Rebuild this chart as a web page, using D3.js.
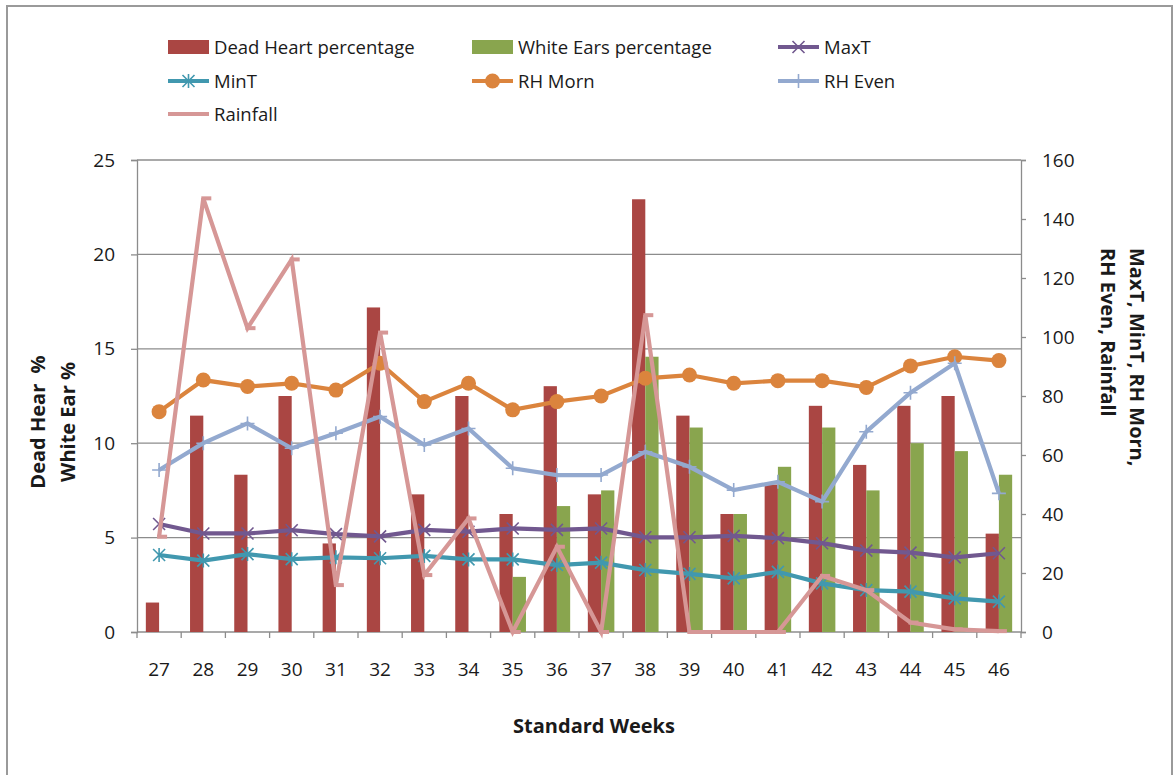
<!DOCTYPE html>
<html>
<head>
<meta charset="utf-8">
<script src="https://cdn.jsdelivr.net/npm/d3@7"></script>
<style>
  html, body { margin: 0; padding: 0; background: #fff; }
  svg { display: block; font-family: "Open Sans", "Noto Sans", sans-serif; }
  text { white-space: pre; }
</style>
</head>
<body>
<svg id="chart" width="1175" height="775"></svg>
<script>
// Standard weeks on the category axis
const weeks = ["27","28","29","30","31","32","33","34","35","36","37","38","39","40","41","42","43","44","45","46"];

// Pest incidence (left axis, %)
const deadHeart = [1.56, 11.46, 8.33, 12.5, 4.69, 17.19, 7.29, 12.5, 6.25, 13.02, 7.29, 22.92, 11.46, 6.25, 7.81, 11.98, 8.85, 11.98, 12.5, 5.21];
const whiteEars = [0, 0, 0, 0, 0, 0, 0, 0, 2.92, 6.67, 7.5, 14.58, 10.83, 6.25, 8.75, 10.83, 7.5, 10.0, 9.58, 8.33];

// Weather parameters (right axis)
const maxT     = [36.6, 33.4, 33.4, 34.5, 33.2, 32.4, 34.6, 34.0, 35.1, 34.6, 35.1, 32.1, 32.1, 32.6, 31.8, 30.1, 27.6, 26.9, 25.3, 26.7];
const minT     = [26.1, 24.2, 26.4, 24.7, 25.3, 25.0, 25.8, 24.6, 24.6, 22.7, 23.5, 21.0, 19.7, 18.2, 20.4, 16.5, 14.2, 13.7, 11.4, 10.3];
const rhMorn   = [74.7, 85.4, 83.2, 84.3, 82.0, 91.1, 78.1, 84.3, 75.3, 78.1, 80.0, 86.0, 87.1, 84.3, 85.2, 85.2, 82.9, 90.2, 93.3, 92.0];
const rhEven   = [54.9, 64.0, 70.7, 62.3, 67.4, 73.0, 63.4, 69.0, 55.5, 53.2, 53.2, 61.1, 56.0, 48.1, 50.9, 44.2, 67.9, 81.1, 91.1, 47.0];
const rainfall = [32.3, 147.0, 103.0, 126.3, 15.9, 101.5, 19.3, 38.5, 0, 28.9, 0, 107.4, 0, 0, 0, 19.0, 14.2, 3.2, 0.9, 0.3];

// Axis ticks
const leftTicks = [0, 5, 10, 15, 20, 25];
const rightTicks = [0, 20, 40, 60, 80, 100, 120, 140, 160];

const svg = d3.select("#chart");
const plot = { left: 137, right: 1021, top: 160, bottom: 632 };
const gridColor = "#8c8c8c";
const axisColor = "#8c8c8c";
const textColor = "#1a1a1a";

// Chart frame
svg.append("rect")
  .attr("x", 7).attr("y", 6).attr("width", 1165).attr("height", 800)
  .attr("fill", "#fff").attr("stroke", "#9a9a9a").attr("stroke-width", 2);

// Scales
const x = d3.scaleBand().domain(weeks).range([plot.left, plot.right]).paddingInner(0).paddingOuter(0);
const bw = x.bandwidth();
const xSub = d3.scaleBand().domain(["dh", "we"]).range([0.2 * bw, 0.8 * bw]).padding(0);
const yL = d3.scaleLinear().domain([0, 25]).range([plot.bottom, plot.top]);
const yR = d3.scaleLinear().domain([0, 160]).range([plot.bottom, plot.top]);
const cx = w => x(w) + bw / 2;

// Horizontal gridlines at the left-axis ticks
svg.append("g").selectAll("line").data(leftTicks.filter(t => t > 0)).join("line")
  .attr("x1", plot.left).attr("x2", plot.right)
  .attr("y1", d => yL(d)).attr("y2", d => yL(d))
  .attr("stroke", gridColor).attr("stroke-width", 1.3);

// Left axis
const axL = svg.append("g").attr("transform", `translate(${plot.left},0)`)
  .call(d3.axisLeft(yL).tickValues(leftTicks).tickSize(6).tickPadding(16));
// Right axis
const axR = svg.append("g").attr("transform", `translate(${plot.right},0)`)
  .call(d3.axisRight(yR).tickValues(rightTicks).tickSize(5).tickPadding(16));
// Bottom axis: tick marks sit on the category boundaries
const axB = svg.append("g").attr("transform", `translate(0,${plot.bottom})`)
  .call(d3.axisBottom(x).tickSize(0).tickPadding(31));
axB.selectAll(".tick").append("line")
  .attr("x1", -bw / 2).attr("x2", -bw / 2).attr("y1", 0).attr("y2", 6);

[axL, axR, axB].forEach(a => {
  a.select(".domain").attr("stroke", axisColor).attr("stroke-width", 1.3);
  a.selectAll(".tick line").attr("stroke", axisColor).attr("stroke-width", 1.3);
  a.selectAll(".tick text").attr("fill", textColor)
    .attr("font-family", "'Open Sans', sans-serif").attr("font-size", 19);
});
// Closing tick at the right end of the category axis
svg.append("line")
  .attr("x1", plot.right).attr("x2", plot.right).attr("y1", plot.bottom).attr("y2", plot.bottom + 6)
  .attr("stroke", axisColor).attr("stroke-width", 1.3);
axB.select(".domain").attr("d", `M${plot.left},0H${plot.right}`);

// Bars
const barData = weeks.map((w, i) => ({ w, dh: deadHeart[i], we: whiteEars[i] }));
const barColors = { dh: "#AA4643", we: "#89A54E" };
const gBars = svg.append("g");
["dh", "we"].forEach(k => {
  gBars.selectAll(`rect.${k}`).data(barData).join("rect")
    .attr("class", k)
    .attr("x", d => x(d.w) + xSub(k))
    .attr("width", xSub.bandwidth())
    .attr("y", d => yL(d[k]))
    .attr("height", d => yL(0) - yL(d[k]))
    .attr("fill", barColors[k]);
});

// Marker shapes
function drawMarker(g, type, color, px, py) {
  if (type === "x") {
    g.append("path").attr("d", `M${px-6},${py-6}L${px+6},${py+6}M${px-6},${py+6}L${px+6},${py-6}`)
      .attr("stroke", color).attr("stroke-width", 1.6).attr("fill", "none");
  } else if (type === "star") {
    g.append("path").attr("d", `M${px-6},${py-6}L${px+6},${py+6}M${px-6},${py+6}L${px+6},${py-6}M${px},${py-7}L${px},${py+7}`)
      .attr("stroke", color).attr("stroke-width", 1.6).attr("fill", "none");
  } else if (type === "circle") {
    g.append("circle").attr("cx", px).attr("cy", py).attr("r", 7.5).attr("fill", color);
  } else if (type === "plus") {
    g.append("path").attr("d", `M${px-7},${py}L${px+7},${py}M${px},${py-7}L${px},${py+7}`)
      .attr("stroke", color).attr("stroke-width", 1.6).attr("fill", "none");
  } else if (type === "dash") {
    g.append("rect").attr("x", px - 2).attr("y", py - 2).attr("width", 10).attr("height", 4)
      .attr("fill", color);
  }
}

const lineSeries = [
  { name: "MaxT", values: maxT, color: "#71588F", marker: "x" },
  { name: "MinT", values: minT, color: "#4198AF", marker: "star" },
  { name: "RH Morn", values: rhMorn, color: "#DB843D", marker: "circle" },
  { name: "RH Even", values: rhEven, color: "#93A9CF", marker: "plus" },
  { name: "Rainfall", values: rainfall, color: "#D69796", marker: "dash" }
];

const line = d3.line().x(d => d[0]).y(d => d[1]);
lineSeries.forEach(s => {
  const pts = s.values.map((v, i) => [cx(weeks[i]), yR(v)]);
  const g = svg.append("g");
  g.append("path").attr("d", line(pts)).attr("fill", "none")
    .attr("stroke", s.color).attr("stroke-width", 4.2).attr("stroke-linejoin", "miter");
  pts.forEach(p => drawMarker(g, s.marker, s.color, p[0], p[1]));
});

// Axis titles
svg.append("text")
  .attr("x", 594).attr("y", 733).attr("text-anchor", "middle")
  .attr("font-size", 20).attr("font-weight", "bold").attr("fill", textColor)
  .text("Standard Weeks");

const leftTitle = svg.append("g").attr("transform", "translate(45,422) rotate(-90)");
leftTitle.append("text").attr("x", 0).attr("y", 0).attr("text-anchor", "middle")
  .attr("font-size", 20).attr("font-weight", "bold").attr("fill", textColor).text("Dead Hear  %");
leftTitle.append("text").attr("x", 0).attr("y", 30).attr("text-anchor", "middle")
  .attr("font-size", 20).attr("font-weight", "bold").attr("fill", textColor).text("White Ear %");

const rightTitle = svg.append("g").attr("transform", "translate(1130,248) rotate(90)");
rightTitle.append("text").attr("x", 0).attr("y", 0).attr("text-anchor", "start")
  .attr("font-size", 20).attr("font-weight", "bold").attr("fill", textColor).text("MaxT, MinT, RH Morn,");
rightTitle.append("text").attr("x", 0).attr("y", 29).attr("text-anchor", "start")
  .attr("font-size", 20).attr("font-weight", "bold").attr("fill", textColor).text("RH Even, Rainfall");

// Legend
const legendItems = [
  { name: "Dead Heart percentage", type: "bar", color: barColors.dh, col: 0, row: 0 },
  { name: "White Ears percentage", type: "bar", color: barColors.we, col: 1, row: 0 },
  { name: "MaxT", type: "line", s: lineSeries[0], col: 2, row: 0 },
  { name: "MinT", type: "line", s: lineSeries[1], col: 0, row: 1 },
  { name: "RH Morn", type: "line", s: lineSeries[2], col: 1, row: 1 },
  { name: "RH Even", type: "line", s: lineSeries[3], col: 2, row: 1 },
  { name: "Rainfall", type: "line", s: lineSeries[4], col: 0, row: 2 }
];
const colX = [168, 472, 778];
const rowY = [47, 81, 114];
const gLeg = svg.append("g");
legendItems.forEach(it => {
  const lx = colX[it.col], ly = rowY[it.row];
  if (it.type === "bar") {
    gLeg.append("rect").attr("x", lx).attr("y", ly - 7).attr("width", 41).attr("height", 14).attr("fill", it.color);
  } else {
    gLeg.append("line").attr("x1", lx).attr("x2", lx + 41).attr("y1", ly).attr("y2", ly)
      .attr("stroke", it.s.color).attr("stroke-width", 4.2);
    if (it.s.marker !== "dash") drawMarker(gLeg, it.s.marker, it.s.color, lx + 20.5, ly);
  }
  gLeg.append("text").attr("x", lx + 46).attr("y", ly).attr("dy", "0.36em")
    .attr("font-size", 18.5).attr("fill", textColor).text(it.name);
});
</script>
</body>
</html>
